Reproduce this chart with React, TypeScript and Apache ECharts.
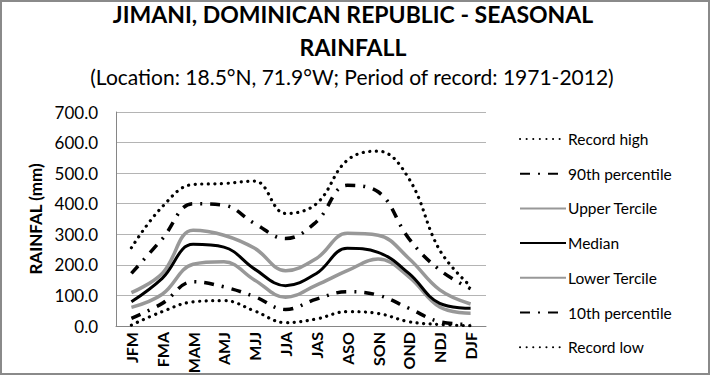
import React, { useEffect, useRef } from "react";
import * as echarts from "echarts";

const categories = ["JFM", "FMA", "MAM", "AMJ", "MJJ", "JJA", "JAS", "ASO", "SON", "OND", "NDJ", "DJF"];
const recordHigh = [256, 390, 463, 466, 474, 368, 400, 542, 572, 482, 248, 130];
const p90 = [172, 285, 400, 395, 335, 286, 341, 460, 439, 286, 183, 122];
const upperTercile = [109, 172, 313, 297, 254, 181, 221, 303, 297, 221, 118, 72];
const median = [79, 156, 267, 258, 186, 132, 172, 254, 241, 172, 74, 58];
const lowerTercile = [61, 104, 202, 210, 150, 94, 134, 181, 219, 161, 62, 42];
const p10 = [25, 74, 145, 128, 96, 54, 88, 112, 101, 58, 14, 5];
const recordLow = [3, 47, 79, 83, 49, 11, 23, 47, 41, 14, 5, 1];
const yTicks = [0, 100, 200, 300, 400, 500, 600, 700];

const FONT = "Lato, 'Noto Sans', sans-serif";

export default function App() {
  const ref = useRef<HTMLDivElement>(null);
  useEffect(() => {
    if (!ref.current) return;
    const chart = echarts.init(ref.current, undefined, { renderer: "svg" });
    const gray = "#989898";
    const dotStyle = { color: "#000", width: 3.2, type: [0.1, 6.5], cap: "round" as const };
    const dashDot = { color: "#000", width: 3.5, type: [10, 8, 2, 8], cap: "butt" as const };
    const mk = (name: string, data: number[], lineStyle: any, z: number) => ({
      name,
      type: "line",
      data,
      smooth: 0.4,
      symbol: "none",
      lineStyle,
      itemStyle: { color: lineStyle.color },
      z,
    });
    chart.setOption({
      animation: false,
      backgroundColor: "#fff",
      textStyle: { fontFamily: FONT },
      graphic: [
        {
          type: "rect",
          shape: { x: 1, y: 1, width: 708, height: 373 },
          style: { fill: "none", stroke: "#8a8a8a", lineWidth: 2 },
          silent: true,
          z: 100,
        },
        {
          type: "text",
          x: 353,
          y: 14,
          style: {
            text: "JIMANI, DOMINICAN REPUBLIC - SEASONAL",
            textAlign: "center",
            textVerticalAlign: "middle",
            font: "bold 23px " + FONT,
            fill: "#000",
          },
        },
        {
          type: "text",
          x: 353,
          y: 47,
          style: {
            text: "RAINFALL",
            textAlign: "center",
            textVerticalAlign: "middle",
            font: "bold 23px " + FONT,
            fill: "#000",
          },
        },
        {
          type: "text",
          x: 352,
          y: 76,
          style: {
            text: "(Location: 18.5°N, 71.9°W; Period of record: 1971-2012)",
            textAlign: "center",
            textVerticalAlign: "middle",
            font: "21px " + FONT,
            fill: "#000",
          },
        },
      ],
      grid: { left: 116, right: 224, top: 112, bottom: 49, containLabel: false, outerBoundsMode: "none" },
      legend: {
        orient: "vertical",
        left: 514,
        top: 126,
        itemWidth: 46,
        itemHeight: 14,
        itemGap: 18.7,
        itemStyle: { opacity: 0 },
        textStyle: { fontSize: 15.5, color: "#000", fontFamily: FONT, padding: [0, 0, 0, -3] },
        data: ["Record high", "90th percentile", "Upper Tercile", "Median", "Lower Tercile", "10th percentile", "Record low"],
      },
      xAxis: {
        type: "category",
        data: categories,
        boundaryGap: true,
        axisLine: { lineStyle: { color: "#868686", width: 1 } },
        axisTick: { show: false },
        axisLabel: {
          rotate: 90,
          color: "#000",
          fontSize: 16,
          fontWeight: "bold",
          fontFamily: FONT,
          margin: 6,
          interval: 0,
        },
      },
      yAxis: {
        type: "value",
        min: yTicks[0],
        max: yTicks[yTicks.length - 1],
        interval: 100,
        name: "RAINFAL (mm)",
        nameLocation: "middle",
        nameGap: 72,
        nameTextStyle: { fontSize: 17, fontWeight: "bold", color: "#000", fontFamily: FONT },
        axisLine: { show: true, lineStyle: { color: "#868686", width: 1 } },
        axisTick: { show: false },
        splitLine: { lineStyle: { color: "#b4b4b4", width: 1 } },
        axisLabel: {
          color: "#000",
          fontSize: 17,
          fontFamily: FONT,
          margin: 18,
          formatter: (v: number) => v.toFixed(1),
        },
      },
      series: [
        mk("Record high", recordHigh, dotStyle, 2),
        mk("90th percentile", p90, dashDot, 2),
        mk("Upper Tercile", upperTercile, { color: gray, width: 3.5, type: "solid" }, 3),
        mk("Median", median, { color: "#000", width: 3, type: "solid" }, 4),
        mk("Lower Tercile", lowerTercile, { color: gray, width: 3.5, type: "solid" }, 3),
        mk("10th percentile", p10, dashDot, 2),
        mk("Record low", recordLow, dotStyle, 2),
      ],
    });
    return () => chart.dispose();
  }, []);
  return (
    <div
      ref={ref}
      style={{ position: "fixed", left: 0, top: 0, width: 710, height: 375 }}
    />
  );
}
